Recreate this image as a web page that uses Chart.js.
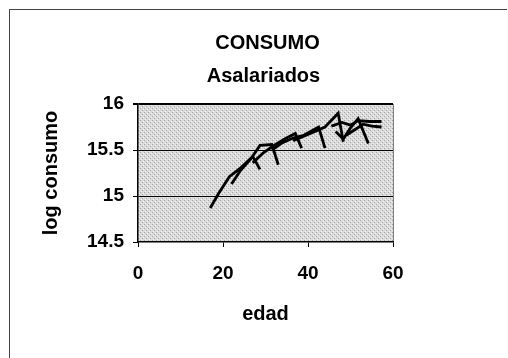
<!DOCTYPE html>
<html>
<head>
<meta charset="utf-8">
<script src="https://cdn.jsdelivr.net/npm/chart.js@4/dist/chart.umd.min.js"></script>
<style>
    html, body { margin: 0; padding: 0; background: #fff; }
    #wrap { position: relative; width: 508px; height: 358px; overflow: hidden; }
    #frame {
        position: absolute; left: 9px; top: 9px; width: 497px; height: 360px;
        border-top: 1px solid #444; border-left: 1px solid #444;
    }
    #chart { position: absolute; left: 0; top: 0; }
</style>
</head>
<body>
<div id="wrap">
    <div id="frame"></div>
    <canvas id="chart" width="508" height="358"></canvas>
</div>
<script>
// Titles and axis labels
const tituloLineas = ['CONSUMO', 'Asalariados'];
const tituloEjeX = 'edad';
const tituloEjeY = 'log consumo';

// Ticks
const ticksX = [0, 20, 40, 60];
const ticksY = [14.5, 15, 15.5, 16];

// Cohorts: age (edad) and log consumption
const cohorte1Edad = [17, 19, 21.5, 24, 27, 28.7];
const cohorte1Log  = [14.87, 15.03, 15.21, 15.30, 15.43, 15.29];
const cohorte2Edad = [22, 24, 26.5, 28.7, 31.5, 33];
const cohorte2Log  = [15.13, 15.27, 15.40, 15.55, 15.56, 15.34];
const cohorte3Edad = [27, 29.5, 32, 34.5, 37, 38.5];
const cohorte3Log  = [15.36, 15.47, 15.55, 15.62, 15.68, 15.52];
const cohorte4Edad = [31.5, 34, 36.5, 39, 42.5, 44];
const cohorte4Log  = [15.50, 15.58, 15.63, 15.66, 15.75, 15.52];
const cohorte5Edad = [36.5, 39, 41.5, 44, 47.1, 48.3];
const cohorte5Log  = [15.60, 15.65, 15.70, 15.75, 15.90, 15.59];
const cohorte6Edad = [46.5, 48.3, 50, 51.8, 54.2];
const cohorte6Log  = [15.70, 15.62, 15.74, 15.84, 15.57];
const cohorte7Edad = [45.5, 48, 50, 51.8, 54.5, 57.3];
const cohorte7Log  = [15.76, 15.80, 15.77, 15.82, 15.81, 15.81];
const cohorte8Edad = [49, 51, 53, 55, 57.3];
const cohorte8Log  = [15.66, 15.72, 15.78, 15.76, 15.75];

const cohortes = [
    [cohorte1Edad, cohorte1Log],
    [cohorte2Edad, cohorte2Log],
    [cohorte3Edad, cohorte3Log],
    [cohorte4Edad, cohorte4Log],
    [cohorte5Edad, cohorte5Log],
    [cohorte6Edad, cohorte6Log],
    [cohorte7Edad, cohorte7Log],
    [cohorte8Edad, cohorte8Log]
];

const fontFamily = "'Liberation Sans', Arial, sans-serif";

// Halftone-like grey pattern for the plot area (fixed, no randomness)
function makePattern(ctx) {
    const p = document.createElement('canvas');
    p.width = 4; p.height = 4;
    const pc = p.getContext('2d');
    pc.fillStyle = '#dadada';
    pc.fillRect(0, 0, 4, 4);
    pc.fillStyle = '#a4a4a4';
    pc.fillRect(0, 0, 1, 1);
    pc.fillRect(2, 2, 1, 1);
    pc.fillStyle = '#f4f4f4';
    pc.fillRect(3, 1, 1, 1);
    pc.fillRect(1, 3, 1, 1);
    return ctx.createPattern(p, 'repeat');
}

// Fill the plot area and draw the two title lines centred over it
const plotDecor = {
    id: 'plotDecor',
    beforeDraw(chart) {
        const {ctx, chartArea: a} = chart;
        ctx.save();
        ctx.fillStyle = makePattern(ctx);
        ctx.fillRect(a.left, a.top, a.right - a.left, a.bottom - a.top);
        ctx.restore();
    },
    afterDraw(chart) {
        const {ctx, chartArea: a} = chart;
        const cx = (a.left + a.right) / 2;
        ctx.save();
        ctx.fillStyle = '#000';
        ctx.textAlign = 'center';
        ctx.textBaseline = 'middle';
        ctx.font = 'bold 20px ' + fontFamily;
        ctx.fillText(tituloLineas[0], cx + 2, 43);
        ctx.fillText(tituloLineas[1], cx - 2, 76);
        ctx.restore();
    }
};

const datasets = cohortes.map(([edad, valores], i) => ({
    label: 'Cohorte ' + (i + 1),
    data: edad.map((x, j) => ({ x: x, y: valores[j] })),
    showLine: true,
    borderColor: '#000',
    borderWidth: 2.8,
    pointRadius: 0,
    tension: 0,
    fill: false
}));

const tickFont = { family: fontFamily, size: 19, weight: 'bold' };
const axisTitleFont = { family: fontFamily, size: 20, weight: 'bold' };

new Chart(document.getElementById('chart'), {
    type: 'scatter',
    data: { datasets: datasets },
    plugins: [plotDecor],
    options: {
        responsive: false,
        animation: false,
        layout: {
            padding: { left: 35, right: 115, top: 104, bottom: 28 }
        },
        plugins: {
            legend: { display: false },
            tooltip: { enabled: false }
        },
        scales: {
            x: {
                type: 'linear',
                min: 0,
                max: 60,
                afterBuildTicks: s => { s.ticks = ticksX.map(v => ({ value: v })); },
                afterFit: s => { s.height = 88; },
                ticks: {
                    color: '#000',
                    padding: 15,
                    font: tickFont,
                    callback: v => String(v)
                },
                grid: {
                    color: c => (c.tick && c.tick.value === 60) ? '#808080' : 'rgba(0,0,0,0)',
                    tickColor: '#000',
                    tickLength: 5,
                    lineWidth: 1
                },
                border: { display: true, color: '#000', width: 1.5 },
                title: {
                    display: true,
                    text: tituloEjeX,
                    color: '#000',
                    padding: { top: 4, bottom: 4 },
                    font: axisTitleFont
                }
            },
            y: {
                type: 'linear',
                min: 14.5,
                max: 16,
                afterBuildTicks: s => { s.ticks = ticksY.map(v => ({ value: v })); },
                afterFit: s => { s.width = 103; },
                ticks: {
                    color: '#000',
                    padding: 9,
                    font: tickFont,
                    callback: v => String(v)
                },
                grid: {
                    color: c => (c.tick && c.tick.value > 14.5) ? '#000' : 'rgba(0,0,0,0)',
                    lineWidth: c => (c.tick && c.tick.value === 16) ? 2 : 1,
                    tickColor: '#000',
                    tickLength: 5
                },
                border: { display: true, color: '#000', width: 1.5 },
                title: {
                    display: true,
                    text: tituloEjeY,
                    color: '#000',
                    padding: { top: 4, bottom: 4 },
                    font: axisTitleFont
                }
            }
        }
    }
});
</script>
</body>
</html>
